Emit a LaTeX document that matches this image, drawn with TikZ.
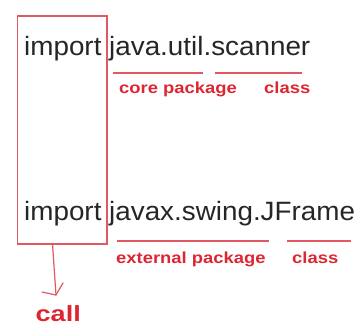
\documentclass[tikz,border=0pt]{standalone}
\usepackage{fontspec}
\setmainfont{Liberation Sans}
\definecolor{lbl}{RGB}{222,38,50}
\definecolor{rline}{RGB}{226,88,98}
\begin{document}
\begin{tikzpicture}[x=1pt,y=-1pt,
  codetext/.style={anchor=base west,inner sep=0pt,text=black!85,font=\fontsize{26.5}{28}\selectfont},
  redlabel/.style={anchor=base west,inner sep=0pt,text=lbl,font=\bfseries\fontsize{16}{18}\selectfont},
  redline/.style={draw=rline,line width=1.4pt}]
\useasboundingbox (0,0) rectangle (364,325);
\fill[white] (0,0) rectangle (364,325);
% box round the keyword
\node[redline,draw,minimum width=89.5pt,minimum height=228pt,inner sep=0pt] (box) at (62.25,130) {};
% code lines
\node[codetext] (line1) at (24,55) {\scalebox{1.05}[1]{import java.util.scanner}};
\node[codetext] (line2) at (24,220.5) {\scalebox{1.05}[1]{import javax.swing.JFrame}};
% underlines, first line
\coordinate (u1a) at (113,73); \coordinate (u1b) at (203,73);
\coordinate (u2a) at (215,73); \coordinate (u2b) at (302,73);
\draw[redline] (u1a) -- (u1b);
\draw[redline] (u2a) -- (u2b);
\node[redlabel] (core) at (119,93) {\scalebox{1.15}[1]{core package}};
\node[redlabel] (cls1) at (264,93) {\scalebox{1.15}[1]{class}};
% underlines, second line
\coordinate (u3a) at (117,241); \coordinate (u3b) at (269,241);
\coordinate (u4a) at (287,241); \coordinate (u4b) at (351,241);
\draw[redline] (u3a) -- (u3b);
\draw[redline] (u4a) -- (u4b);
\node[redlabel] (ext) at (116,263) {\scalebox{1.15}[1]{external package}};
\node[redlabel] (cls2) at (292,263) {\scalebox{1.15}[1]{class}};
% arrow to "call"
\coordinate (from) at (52.5,244);
\coordinate (tip) at (56,295);
\coordinate (barbL) at (42,292);
\coordinate (barbR) at (63,283);
\draw[redline,line width=1.2pt,line cap=round,line join=round] (from) -- (tip);
\draw[redline,line width=1.2pt,line cap=round,line join=round] (barbL) -- (tip) -- (barbR);
\node[anchor=base west,inner sep=0pt,text=lbl,font=\bfseries\fontsize{22}{24}\selectfont] (call) at (35.5,321) {\scalebox{1.23}[1]{call}};
\end{tikzpicture}
\end{document}
